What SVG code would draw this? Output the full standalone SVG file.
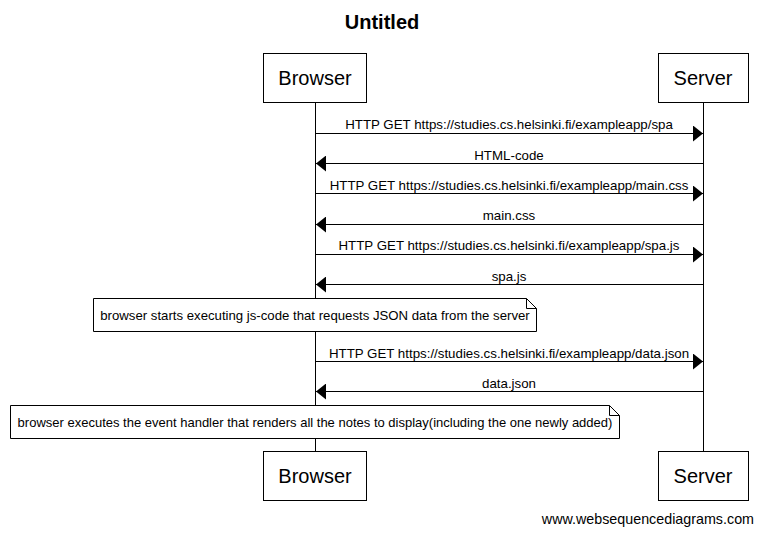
<svg xmlns="http://www.w3.org/2000/svg" width="762" height="534" viewBox="0 0 762 534">
<style>
text{font-family:"Liberation Sans",Arial,sans-serif;fill:#000}
.actor rect{fill:#fff;stroke:#000;stroke-width:1}
.actor text{font-size:20px;text-anchor:middle}
.life{stroke:#000;stroke-width:1}
.msg line{stroke:#000;stroke-width:1}
.lbl{font-size:13.3px;text-anchor:middle}
.note path{fill:#fff;stroke:#000;stroke-width:1}
.note text{font-size:13.2px;text-anchor:middle}
#note2 text{font-size:13px}
</style>
<defs>
<marker id="ah" viewBox="0 0 10 16" refX="10" refY="8" markerWidth="10" markerHeight="16" markerUnits="userSpaceOnUse" orient="auto">
<path d="M0,0 L10,8 L0,16 Z" fill="#000"/>
</marker>
</defs>
<rect width="762" height="534" fill="#fff"/>
<text x="382" y="29" font-size="20" font-weight="bold" text-anchor="middle">Untitled</text>
<g id="lifelines">
<line class="life" x1="315.5" y1="102" x2="315.5" y2="451"/>
<line class="life" x1="703.5" y1="102" x2="703.5" y2="451"/>
</g>
<g id="browser-top" class="actor"><rect x="263.5" y="53.5" width="103" height="49"/><text x="315" y="85">Browser</text></g>
<g id="server-top" class="actor"><rect x="658.5" y="53.5" width="90" height="49"/><text x="703" y="85">Server</text></g>
<g id="browser-bottom" class="actor"><rect x="263.5" y="451.5" width="103" height="49"/><text x="315" y="483">Browser</text></g>
<g id="server-bottom" class="actor"><rect x="658.5" y="451.5" width="90" height="49"/><text x="703" y="483">Server</text></g>
<g id="connectors" class="msg">
<line x1="316" y1="133.5" x2="703" y2="133.5" marker-end="url(#ah)"/>
<text class="lbl" x="509" y="129">HTTP GET https://studies.cs.helsinki.fi/exampleapp/spa</text>
<line x1="703" y1="163.5" x2="316" y2="163.5" marker-end="url(#ah)"/>
<text class="lbl" x="509" y="160">HTML-code</text>
<line x1="316" y1="193.5" x2="703" y2="193.5" marker-end="url(#ah)"/>
<text class="lbl" x="509" y="190">HTTP GET https://studies.cs.helsinki.fi/exampleapp/main.css</text>
<line x1="703" y1="224.5" x2="316" y2="224.5" marker-end="url(#ah)"/>
<text class="lbl" x="509" y="220">main.css</text>
<line x1="316" y1="254.5" x2="703" y2="254.5" marker-end="url(#ah)"/>
<text class="lbl" x="509" y="250">HTTP GET https://studies.cs.helsinki.fi/exampleapp/spa.js</text>
<line x1="703" y1="284.5" x2="316" y2="284.5" marker-end="url(#ah)"/>
<text class="lbl" x="509" y="281">spa.js</text>
<line x1="316" y1="361.5" x2="703" y2="361.5" marker-end="url(#ah)"/>
<text class="lbl" x="509" y="358">HTTP GET https://studies.cs.helsinki.fi/exampleapp/data.json</text>
<line x1="703" y1="391.5" x2="316" y2="391.5" marker-end="url(#ah)"/>
<text class="lbl" x="509" y="388">data.json</text>
</g>
<g id="note1" class="note">
<path d="M93.5,298.5 H526.5 L536.5,308.5 V331.5 H93.5 Z M526.5,298.5 V308.5 H536.5"/>
<text x="315" y="320">browser starts executing js-code that requests JSON data from the server</text>
</g>
<g id="note2" class="note">
<path d="M10.5,405.5 H609.5 L619.5,415.5 V438.5 H10.5 Z M609.5,405.5 V415.5 H619.5"/>
<text x="315" y="427">browser executes the event handler that renders all the notes to display(including the one newly added)</text>
</g>
<text x="754" y="524" font-size="14.3" text-anchor="end">www.websequencediagrams.com</text>
</svg>
